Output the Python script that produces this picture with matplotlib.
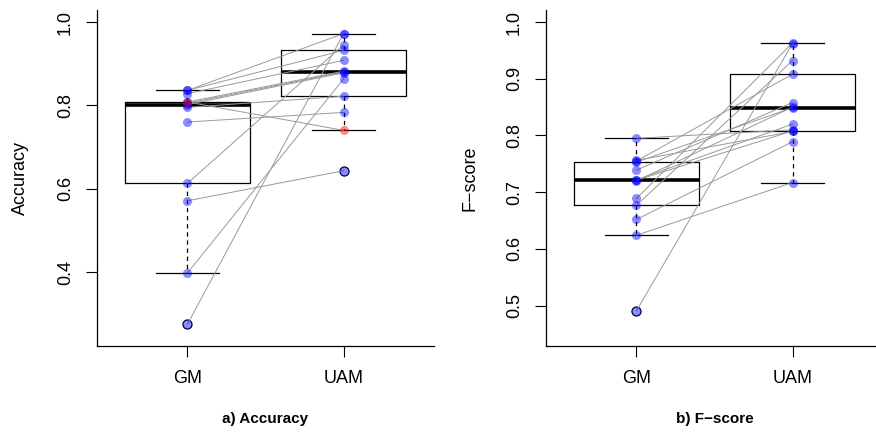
import numpy as np
import matplotlib
matplotlib.use('Agg')
import matplotlib.pyplot as plt

plt.rcParams['font.family'] = ['Liberation Sans', 'DejaVu Sans']

groups = ['GM', 'UAM']

# one value per subject, same order in both lists
acc_gm  = [0.275, 0.398, 0.571, 0.613, 0.760, 0.795, 0.802, 0.805, 0.808, 0.808, 0.828, 0.836, 0.836]
acc_uam = [0.972, 0.863, 0.643, 0.945, 0.783, 0.822, 0.878, 0.880, 0.882, 0.740, 0.908, 0.932, 0.972]

f_gm  = [0.491, 0.624, 0.652, 0.677, 0.689, 0.720, 0.721, 0.722, 0.739, 0.753, 0.755, 0.756, 0.795]
f_uam = [0.962, 0.717, 0.789, 0.932, 0.963, 0.850, 0.808, 0.820, 0.858, 0.849, 0.908, 0.807, 0.810]

acc_ticks = [0.4, 0.6, 0.8, 1.0]
f_ticks   = [0.5, 0.6, 0.7, 0.8, 0.9, 1.0]


def fivenum(x):
    # same hinges as R's boxplot
    x = np.sort(np.asarray(x))
    n = len(x)
    n4 = np.floor((n + 3) / 2) / 2
    d = np.array([1, n4, (n + 1) / 2, n + 1 - n4, n])
    return 0.5 * (x[np.floor(d).astype(int) - 1] + x[np.ceil(d).astype(int) - 1])


def box_stats(x, label):
    x = np.asarray(x)
    s = fivenum(x)
    iqr = s[3] - s[1]
    out = (x < s[1] - 1.5 * iqr) | (x > s[3] + 1.5 * iqr)
    inside = x[~out]
    return dict(label=label, med=s[2], q1=s[1], q3=s[3],
                whislo=inside.min(), whishi=inside.max(), fliers=x[out])


def panel(ax, gm, uam, ticks, ylim, ylab, title):
    stats = [box_stats(gm, groups[0]), box_stats(uam, groups[1])]
    ax.bxp(stats, positions=[1, 2], widths=0.8, capwidths=0.4,
           manage_ticks=False, zorder=2,
           boxprops=dict(color='black', lw=0.9),
           medianprops=dict(color='black', lw=2.6, solid_capstyle='butt'),
           whiskerprops=dict(color='black', lw=0.9, linestyle=(0, (3.5, 3))),
           capprops=dict(color='black', lw=0.9),
           flierprops=dict(marker='o', mfc='none', mec='black', ms=6.5, mew=0.9))

    for a, b in zip(gm, uam):
        col = (1, 0, 0, 0.45) if b < a else (0, 0, 1, 0.45)
        ax.plot([1, 2], [a, b], color='#999999', lw=0.7, zorder=3)
        ax.plot([1, 2], [a, b], 'o', color=col, ms=6.5, mec='none', zorder=4)

    ax.set_xlim(0.42, 2.58)
    ax.set_ylim(*ylim)
    ax.set_xticks([1, 2])
    ax.set_xticklabels(groups)
    ax.set_yticks(ticks)
    ax.set_yticklabels(['%.1f' % t for t in ticks], rotation=90, va='center')
    ax.tick_params(direction='out', length=8, width=0.8, labelsize=13, color='black')
    ax.tick_params(axis='x', pad=9.5)
    ax.tick_params(axis='y', pad=8.5)
    for side in ['top', 'right']:
        ax.spines[side].set_visible(False)
    for side in ['left', 'bottom']:
        ax.spines[side].set_linewidth(0.9)
    ax.set_ylabel(ylab, fontsize=13, va='center')
    ax.yaxis.set_label_coords(-0.227, 0.5)
    ax.text(0.5, -0.217, title, transform=ax.transAxes, ha='center', va='center',
            fontsize=11, fontweight='bold')


fig = plt.figure(figsize=(8.76, 4.33), dpi=100)
ax1 = fig.add_axes([97 / 876, 87 / 433, 337 / 876, 336 / 433])
ax2 = fig.add_axes([546 / 876, 87 / 433, 337 / 876, 336 / 433])

panel(ax1, acc_gm, acc_uam, acc_ticks, (0.2225, 1.0288), 'Accuracy', 'a) Accuracy')
panel(ax2, f_gm, f_uam, f_ticks, (0.4288, 1.0212), 'F\u2212score', 'b) F\u2212score')

fig.savefig('out.png', dpi=100)
